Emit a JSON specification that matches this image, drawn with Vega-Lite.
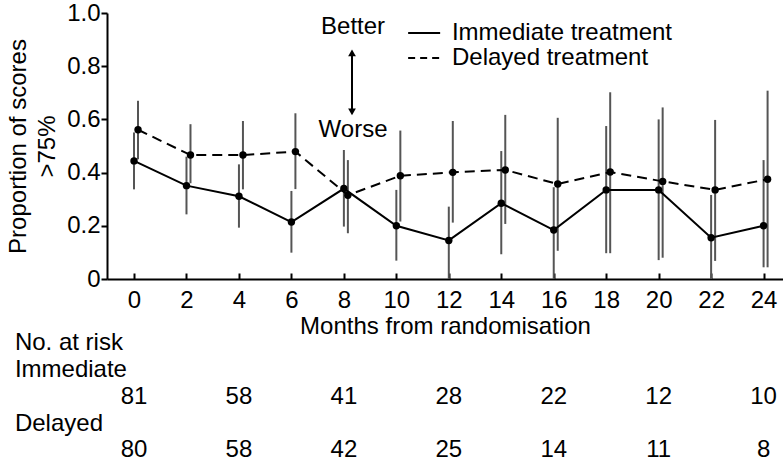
{
  "$schema": "https://vega.github.io/schema/vega-lite/v6.json",
  "width": 676,
  "height": 266,
  "autosize": {"type": "none"},
  "padding": {"left": 107, "top": 13, "right": 0, "bottom": 184},
  "background": "white",
  "config": {
    "view": {"stroke": null},
    "font": "Liberation Sans",
    "axis": {
      "domainColor": "black", "domainWidth": 2, "tickColor": "black", "tickWidth": 2,
      "labelColor": "black", "titleColor": "black", "labelFont": "Liberation Sans", "titleFont": "Liberation Sans",
      "labelFontSize": 24, "titleFontSize": 24, "titleFontWeight": "normal", "grid": false,
      "labelFlush": false, "labelOverlap": false
    },
    "text": {"font": "Liberation Sans", "fontSize": 24, "color": "black", "baseline": "middle"}
  },
  "datasets": {
    "series": [
      {"arm": "Immediate", "month": 0, "p": 0.444, "lo": 0.337, "hi": 0.551},
      {"arm": "Immediate", "month": 2, "p": 0.351, "lo": 0.243, "hi": 0.46},
      {"arm": "Immediate", "month": 4, "p": 0.311, "lo": 0.193, "hi": 0.431},
      {"arm": "Immediate", "month": 6, "p": 0.214, "lo": 0.099, "hi": 0.331},
      {"arm": "Immediate", "month": 8, "p": 0.34, "lo": 0.197, "hi": 0.485},
      {"arm": "Immediate", "month": 10, "p": 0.2, "lo": 0.069, "hi": 0.335},
      {"arm": "Immediate", "month": 12, "p": 0.145, "lo": 0.0, "hi": 0.272},
      {"arm": "Immediate", "month": 14, "p": 0.285, "lo": 0.093, "hi": 0.481},
      {"arm": "Immediate", "month": 16, "p": 0.184, "lo": 0.0, "hi": 0.345},
      {"arm": "Immediate", "month": 18, "p": 0.335, "lo": 0.097, "hi": 0.575},
      {"arm": "Immediate", "month": 20, "p": 0.335, "lo": 0.071, "hi": 0.6},
      {"arm": "Immediate", "month": 22, "p": 0.155, "lo": 0.0, "hi": 0.316},
      {"arm": "Immediate", "month": 24, "p": 0.2, "lo": 0.044, "hi": 0.447},
      {"arm": "Delayed", "month": 0, "p": 0.561, "lo": 0.45, "hi": 0.67},
      {"arm": "Delayed", "month": 2, "p": 0.466, "lo": 0.36, "hi": 0.582},
      {"arm": "Delayed", "month": 4, "p": 0.466, "lo": 0.337, "hi": 0.594},
      {"arm": "Delayed", "month": 6, "p": 0.479, "lo": 0.338, "hi": 0.623},
      {"arm": "Delayed", "month": 8, "p": 0.315, "lo": 0.172, "hi": 0.447},
      {"arm": "Delayed", "month": 10, "p": 0.388, "lo": 0.216, "hi": 0.558},
      {"arm": "Delayed", "month": 12, "p": 0.401, "lo": 0.212, "hi": 0.594},
      {"arm": "Delayed", "month": 14, "p": 0.41, "lo": 0.207, "hi": 0.617},
      {"arm": "Delayed", "month": 16, "p": 0.357, "lo": 0.106, "hi": 0.606},
      {"arm": "Delayed", "month": 18, "p": 0.402, "lo": 0.097, "hi": 0.702},
      {"arm": "Delayed", "month": 20, "p": 0.367, "lo": 0.08, "hi": 0.645},
      {"arm": "Delayed", "month": 22, "p": 0.335, "lo": 0.068, "hi": 0.598},
      {"arm": "Delayed", "month": 24, "p": 0.375, "lo": 0.044, "hi": 0.708}
    ],
    "risk": [
      {"arm": "Immediate", "month": 0, "n": 81},
      {"arm": "Immediate", "month": 4, "n": 58},
      {"arm": "Immediate", "month": 8, "n": 41},
      {"arm": "Immediate", "month": 12, "n": 28},
      {"arm": "Immediate", "month": 16, "n": 22},
      {"arm": "Immediate", "month": 20, "n": 12},
      {"arm": "Immediate", "month": 24, "n": 10},
      {"arm": "Delayed", "month": 0, "n": 80},
      {"arm": "Delayed", "month": 4, "n": 58},
      {"arm": "Delayed", "month": 8, "n": 42},
      {"arm": "Delayed", "month": 12, "n": 25},
      {"arm": "Delayed", "month": 16, "n": 14},
      {"arm": "Delayed", "month": 20, "n": 11},
      {"arm": "Delayed", "month": 24, "n": 8}
    ]
  },
  "layer": [
    {
      "data": {"name": "series"},
      "transform": [{"filter": "datum.arm === 'Immediate'"}],
      "mark": {"type": "rule", "color": "#555555", "strokeWidth": 2},
      "encoding": {
        "x": {"field": "month", "type": "quantitative", "title": "Months from randomisation",
          "scale": {"domain": [-1.03, 24.74], "nice": false, "zero": false},
          "axis": {"values": [0, 2, 4, 6, 8, 10, 12, 14, 16, 18, 20, 22, 24], "tickSize": -6, "labelPadding": 15,
            "titleX": 338, "titleY": 47, "titleBaseline": "middle", "titleAnchor": "middle"}},
        "y": {"field": "lo", "type": "quantitative", "title": ["Proportion of scores", ">75%"],
          "scale": {"domain": [0, 1], "nice": false, "zero": true},
          "axis": {"values": [0, 0.2, 0.4, 0.6, 0.8, 1], "tickSize": 6, "labelPadding": 1,
            "labelExpr": "datum.value == 0 ? '0' : format(datum.value, '.1f')",
            "titleAngle": -90, "titleX": -89, "titleY": 133, "titleAlign": "center", "titleBaseline": "middle", "titleLineHeight": 29}},
        "y2": {"field": "hi"}
      }
    },
    {
      "data": {"name": "series"},
      "transform": [{"filter": "datum.arm === 'Delayed'"}],
      "mark": {"type": "rule", "color": "#555555", "strokeWidth": 2, "xOffset": 4},
      "encoding": {
        "x": {"field": "month", "type": "quantitative"},
        "y": {"field": "lo", "type": "quantitative"},
        "y2": {"field": "hi"}
      }
    },
    {
      "data": {"name": "series"},
      "transform": [{"filter": "datum.arm === 'Immediate'"}],
      "mark": {"type": "line", "color": "black", "strokeWidth": 2},
      "encoding": {
        "x": {"field": "month", "type": "quantitative"},
        "y": {"field": "p", "type": "quantitative"}
      }
    },
    {
      "data": {"name": "series"},
      "transform": [{"filter": "datum.arm === 'Delayed'"}],
      "mark": {"type": "line", "color": "black", "strokeWidth": 2, "strokeDash": [10, 6], "xOffset": 4},
      "encoding": {
        "x": {"field": "month", "type": "quantitative"},
        "y": {"field": "p", "type": "quantitative"}
      }
    },
    {
      "data": {"name": "series"},
      "transform": [{"filter": "datum.arm === 'Immediate'"}],
      "mark": {"type": "circle", "color": "black", "opacity": 1, "size": 55},
      "encoding": {
        "x": {"field": "month", "type": "quantitative"},
        "y": {"field": "p", "type": "quantitative"}
      }
    },
    {
      "data": {"name": "series"},
      "transform": [{"filter": "datum.arm === 'Delayed'"}],
      "mark": {"type": "circle", "color": "black", "opacity": 1, "size": 55, "xOffset": 4},
      "encoding": {
        "x": {"field": "month", "type": "quantitative"},
        "y": {"field": "p", "type": "quantitative"}
      }
    },
    {
      "data": {"values": [{}]},
      "mark": {"type": "rule", "color": "black", "strokeWidth": 2},
      "encoding": {"x": {"datum": 10.45}, "x2": {"datum": 11.67}, "y": {"datum": 0.925}}
    },
    {
      "data": {"values": [{}]},
      "mark": {"type": "rule", "color": "black", "strokeWidth": 2, "strokeDash": [7, 5]},
      "encoding": {"x": {"datum": 10.45}, "x2": {"datum": 11.67}, "y": {"datum": 0.831}}
    },
    {
      "data": {"values": [{}]},
      "mark": {"type": "text", "text": "Immediate treatment", "align": "left"},
      "encoding": {"x": {"datum": 12.12}, "y": {"datum": 0.925}}
    },
    {
      "data": {"values": [{}]},
      "mark": {"type": "text", "text": "Delayed treatment", "align": "left"},
      "encoding": {"x": {"datum": 12.12}, "y": {"datum": 0.831}}
    },
    {
      "data": {"values": [{}]},
      "mark": {"type": "text", "text": "Better", "align": "center"},
      "encoding": {"x": {"datum": 8.35}, "y": {"datum": 0.947}}
    },
    {
      "data": {"values": [{}]},
      "mark": {"type": "text", "text": "Worse", "align": "center"},
      "encoding": {"x": {"datum": 8.35}, "y": {"datum": 0.56}}
    },
    {
      "data": {"values": [{}]},
      "mark": {"type": "rule", "color": "black", "strokeWidth": 2},
      "encoding": {"x": {"datum": 8.31}, "y": {"datum": 0.855}, "y2": {"datum": 0.625}}
    },
    {
      "data": {"values": [{}]},
      "mark": {"type": "point", "shape": "triangle-up", "filled": true, "color": "black", "opacity": 1, "size": 60},
      "encoding": {"x": {"datum": 8.31}, "y": {"datum": 0.85}}
    },
    {
      "data": {"values": [{}]},
      "mark": {"type": "point", "shape": "triangle-down", "filled": true, "color": "black", "opacity": 1, "size": 60},
      "encoding": {"x": {"datum": 8.31}, "y": {"datum": 0.628}}
    },
    {
      "data": {"values": [{}]},
      "mark": {"type": "text", "text": "No. at risk", "align": "left"},
      "encoding": {"x": {"datum": -4.54}, "y": {"datum": -0.241}}
    },
    {
      "data": {"values": [{}]},
      "mark": {"type": "text", "text": "Immediate", "align": "left"},
      "encoding": {"x": {"datum": -4.54}, "y": {"datum": -0.342}}
    },
    {
      "data": {"values": [{}]},
      "mark": {"type": "text", "text": "Delayed", "align": "left"},
      "encoding": {"x": {"datum": -4.54}, "y": {"datum": -0.546}}
    },
    {
      "data": {"name": "risk"},
      "transform": [{"filter": "datum.arm === 'Immediate'"}],
      "mark": {"type": "text", "align": "center"},
      "encoding": {"x": {"field": "month", "type": "quantitative"}, "y": {"datum": -0.443}, "text": {"field": "n"}}
    },
    {
      "data": {"name": "risk"},
      "transform": [{"filter": "datum.arm === 'Delayed'"}],
      "mark": {"type": "text", "align": "center"},
      "encoding": {"x": {"field": "month", "type": "quantitative"}, "y": {"datum": -0.643}, "text": {"field": "n"}}
    }
  ]
}
